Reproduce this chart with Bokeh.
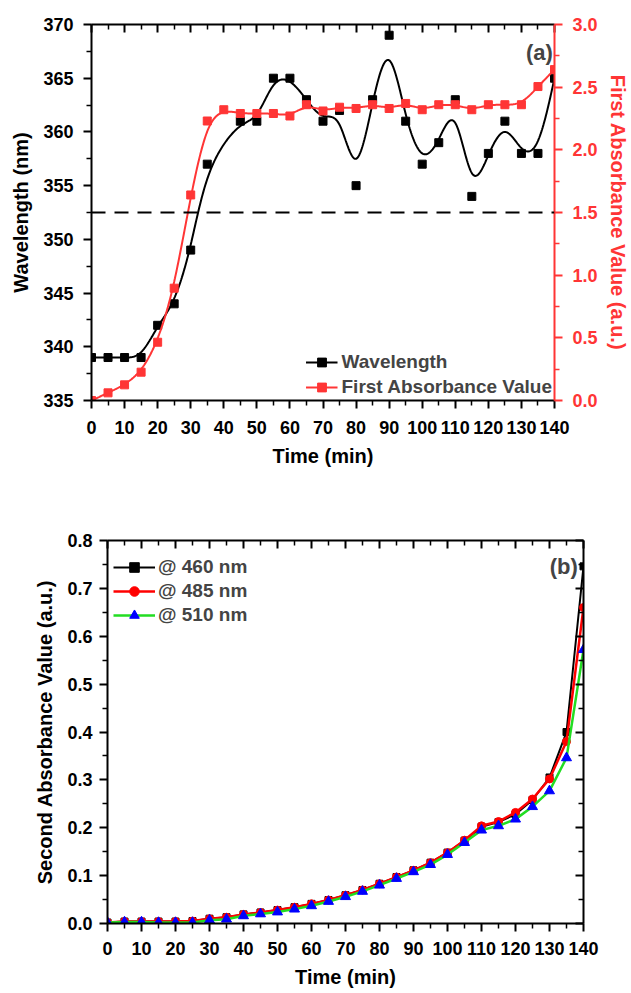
import numpy as np
from bokeh.plotting import figure
from bokeh.models import (Range1d, LinearAxis, FixedTicker, Legend, LegendItem, Label, Span,
                          PrintfTickFormatter)
from bokeh.embed import file_html
from bokeh.resources import INLINE

# ---------------- data (a) ----------------
wl_time = [0, 5, 10, 15, 20, 25, 30, 35, 45, 50, 55, 60, 65, 70, 75, 80, 85, 90,
           95, 100, 105, 110, 115, 120, 125, 130, 135, 140]
wavelength = [339, 339, 339, 339, 342, 344, 349, 357, 361, 361, 365, 365, 363, 361,
              362, 355, 363, 369, 361, 357, 359, 363, 354, 358, 361, 358, 358, 365]
abs_time = [0, 5, 10, 15, 20, 25, 30, 35, 40, 45, 50, 55, 60, 65, 70, 75, 80, 85, 90,
            95, 100, 105, 110, 115, 120, 125, 130, 135, 140]
first_abs = [0.0, 0.061, 0.125, 0.226, 0.465, 0.896, 1.64, 2.23, 2.32, 2.29, 2.29,
             2.29, 2.27, 2.36, 2.31, 2.34, 2.33, 2.36, 2.33, 2.37, 2.32, 2.36, 2.36,
             2.32, 2.36, 2.36, 2.36, 2.505, 2.64]
threshold_nm = 352.5

# ---------------- data (b) ----------------
time_b = list(range(0, 145, 5))
abs_460 = [0.002, 0.004, 0.004, 0.004, 0.004, 0.005, 0.010, 0.013, 0.019, 0.023, 0.028,
           0.034, 0.041, 0.049, 0.059, 0.070, 0.083, 0.097, 0.111, 0.127, 0.148, 0.173,
           0.202, 0.212, 0.228, 0.258, 0.305, 0.400, 0.746]
abs_485 = [0.002, 0.004, 0.004, 0.004, 0.004, 0.005, 0.010, 0.013, 0.019, 0.023, 0.028,
           0.034, 0.041, 0.049, 0.059, 0.070, 0.083, 0.097, 0.111, 0.127, 0.148, 0.174,
           0.204, 0.213, 0.232, 0.260, 0.302, 0.380, 0.660]
abs_510 = [0.002, 0.003, 0.003, 0.002, 0.002, 0.002, 0.007, 0.009, 0.016, 0.020, 0.024,
           0.030, 0.037, 0.046, 0.056, 0.067, 0.080, 0.094, 0.108, 0.123, 0.144, 0.169,
           0.195, 0.204, 0.218, 0.244, 0.277, 0.346, 0.572]

x_ticks = list(range(0, 150, 10))
x_minor = list(range(5, 145, 10))

FONT = "Liberation Sans"
RED = "#FF3535"


def bspline(xs, ys, n=24):
    """Uniform cubic B-spline using data as control points (ends clamped)."""
    P = np.column_stack([xs, ys]).astype(float)
    P = np.vstack([P[0], P[0], P, P[-1], P[-1]])
    t = np.linspace(0, 1, n, endpoint=False)
    b0 = (1 - t) ** 3 / 6
    b1 = (3 * t ** 3 - 6 * t ** 2 + 4) / 6
    b2 = (-3 * t ** 3 + 3 * t ** 2 + 3 * t + 1) / 6
    b3 = t ** 3 / 6
    segs = []
    for i in range(len(P) - 3):
        p0, p1, p2, p3 = P[i:i + 4]
        segs.append(b0[:, None] * p0 + b1[:, None] * p1 + b2[:, None] * p2 + b3[:, None] * p3)
    segs.append(P[-1][None, :])
    out = np.vstack(segs)
    return out[:, 0], out[:, 1]


def style_axis(ax, color="black", labels=True, inward=False, size="18px"):
    ax.axis_line_width = 2
    ax.axis_line_color = color
    ax.major_tick_line_color = color
    ax.minor_tick_line_color = color
    ax.major_tick_line_width = 2
    ax.minor_tick_line_width = 1.5
    if inward:
        ax.major_tick_in = 8
        ax.major_tick_out = 0
        ax.minor_tick_in = 5
        ax.minor_tick_out = 0
        ax.major_label_standoff = 0
    else:
        ax.major_tick_in = 0
        ax.major_tick_out = 8
        ax.minor_tick_in = 0
        ax.minor_tick_out = 5
    ax.major_label_text_font = FONT
    ax.major_label_text_font_style = "bold"
    ax.major_label_text_font_size = size if labels else "0px"
    ax.major_label_text_color = color if labels else None
    ax.axis_label_text_font = FONT
    ax.axis_label_text_font_style = "bold"
    ax.axis_label_text_font_size = "20px"
    ax.axis_label_text_color = color


# ================= figure (a) =================
p1 = figure(width=631, height=470, min_border_left=91, min_border_right=73,
            min_border_top=24, min_border_bottom=70,
            x_range=Range1d(0, 140), y_range=Range1d(335, 370),
            output_backend="svg", toolbar_location=None)
p1.outline_line_color = None
p1.grid.visible = False
p1.extra_y_ranges = {"abs": Range1d(0, 3)}

p1.xaxis.ticker = FixedTicker(ticks=x_ticks, minor_ticks=x_minor)
p1.yaxis.ticker = FixedTicker(ticks=list(range(335, 375, 5)),
                              minor_ticks=[337.5 + 5 * i for i in range(7)])
style_axis(p1.xaxis[0])
style_axis(p1.yaxis[0])
p1.xaxis.axis_label = "Time (min)"
p1.yaxis.axis_label = "Wavelength (nm)"
p1.xaxis.major_label_standoff = 12
p1.xaxis.axis_label_standoff = 8
p1.yaxis.major_label_standoff = 10
p1.yaxis.axis_label_standoff = 8

top1 = LinearAxis(ticker=FixedTicker(ticks=x_ticks, minor_ticks=x_minor))
style_axis(top1, labels=False, inward=True)
p1.add_layout(top1, "above")

right1 = LinearAxis(y_range_name="abs",
                    ticker=FixedTicker(ticks=[0, 0.5, 1, 1.5, 2, 2.5, 3],
                                       minor_ticks=[0.25 + 0.5 * i for i in range(6)]),
                    formatter=PrintfTickFormatter(format="%.1f"),
                    axis_label="First Absorbance Value (a.u.)")
style_axis(right1, color=RED)
right1.major_label_standoff = 10
right1.axis_label_standoff = 6
p1.add_layout(right1, "right")

p1.add_layout(Span(location=threshold_nm, dimension="width", line_color="black",
                   line_width=2, line_dash="14 9"))

bx, by = bspline(wl_time, wavelength)
l_wl = p1.line(bx, by, line_color="black", line_width=2)
s_wl = p1.scatter(wl_time, wavelength, marker="square", size=8, color="black")

rx, ry = bspline(abs_time, first_abs)
l_ab = p1.line(rx, ry, line_color=RED, line_width=2, y_range_name="abs")
s_ab = p1.scatter(abs_time, first_abs, marker="square", size=8, color=RED,
                  y_range_name="abs")

leg1 = Legend(items=[LegendItem(label="Wavelength", renderers=[l_wl, s_wl]),
                     LegendItem(label="First Absorbance Value", renderers=[l_ab, s_ab])],
              location="bottom_right", margin=2, padding=2, spacing=3,
              label_height=22, glyph_height=22, glyph_width=32, label_standoff=4,
              background_fill_alpha=0, border_line_color=None,
              label_text_font=FONT, label_text_font_style="bold",
              label_text_font_size="19px")
p1.add_layout(leg1)

p1.add_layout(Label(x=139.5, y=367.4, text="(a)", text_align="right",
                    text_baseline="middle", text_font=FONT, text_font_style="bold",
                    text_font_size="22px"))

# ================= figure (b) =================
p2 = figure(width=631, height=523, min_border_left=107, min_border_right=48,
            min_border_top=70, min_border_bottom=70,
            x_range=Range1d(0, 140), y_range=Range1d(0, 0.8),
            output_backend="svg", toolbar_location=None)
p2.outline_line_color = None
p2.grid.visible = False
p2.xaxis.ticker = FixedTicker(ticks=x_ticks, minor_ticks=x_minor)
yt = [round(0.1 * i, 1) for i in range(9)]
ym = [round(0.05 + 0.1 * i, 2) for i in range(8)]
p2.yaxis.ticker = FixedTicker(ticks=yt, minor_ticks=ym)
p2.yaxis.formatter = PrintfTickFormatter(format="%.1f")
style_axis(p2.xaxis[0])
style_axis(p2.yaxis[0])
p2.xaxis.axis_label = "Time (min)"
p2.yaxis.axis_label = "Second Absorbance Value (a.u.)"
p2.xaxis.major_label_standoff = 10
p2.xaxis.axis_label_standoff = 8
p2.yaxis.major_label_standoff = 7
p2.yaxis.axis_label_standoff = 8

top2 = LinearAxis(ticker=FixedTicker(ticks=x_ticks, minor_ticks=x_minor))
style_axis(top2, labels=False, inward=True)
p2.add_layout(top2, "above")
right2 = LinearAxis(ticker=FixedTicker(ticks=yt, minor_ticks=ym))
style_axis(right2, labels=False, inward=True)
p2.add_layout(right2, "right")

l460 = p2.line(time_b, abs_460, line_color="black", line_width=2)
s460 = p2.scatter(time_b, abs_460, marker="square", size=7, color="black")
l485 = p2.line(time_b, abs_485, line_color="#FF0000", line_width=2.5)
s485 = p2.scatter(time_b, abs_485, marker="circle", size=8, color="#FF0000")
l510 = p2.line(time_b, abs_510, line_color="#22DD22", line_width=2.5)
s510 = p2.scatter(time_b, abs_510, marker="triangle", size=10, color="#0000FF")

leg2 = Legend(items=[LegendItem(label="@ 460 nm", renderers=[l460, s460]),
                     LegendItem(label="@ 485 nm", renderers=[l485, s485]),
                     LegendItem(label="@ 510 nm", renderers=[l510, s510])],
              location=(6, 296), margin=0, padding=0, spacing=0,
              label_height=24, glyph_height=24, glyph_width=42, label_standoff=3,
              background_fill_alpha=0, border_line_color=None,
              label_text_font=FONT, label_text_font_style="bold",
              label_text_font_size="19px")
p2.add_layout(leg2)

p2.add_layout(Label(x=138.3, y=0.746, text="(b)", text_align="right",
                    text_baseline="middle", text_font=FONT, text_font_style="bold",
                    text_font_size="22px"))

open("out.html", "w").write(file_html([p1, p2], INLINE))
